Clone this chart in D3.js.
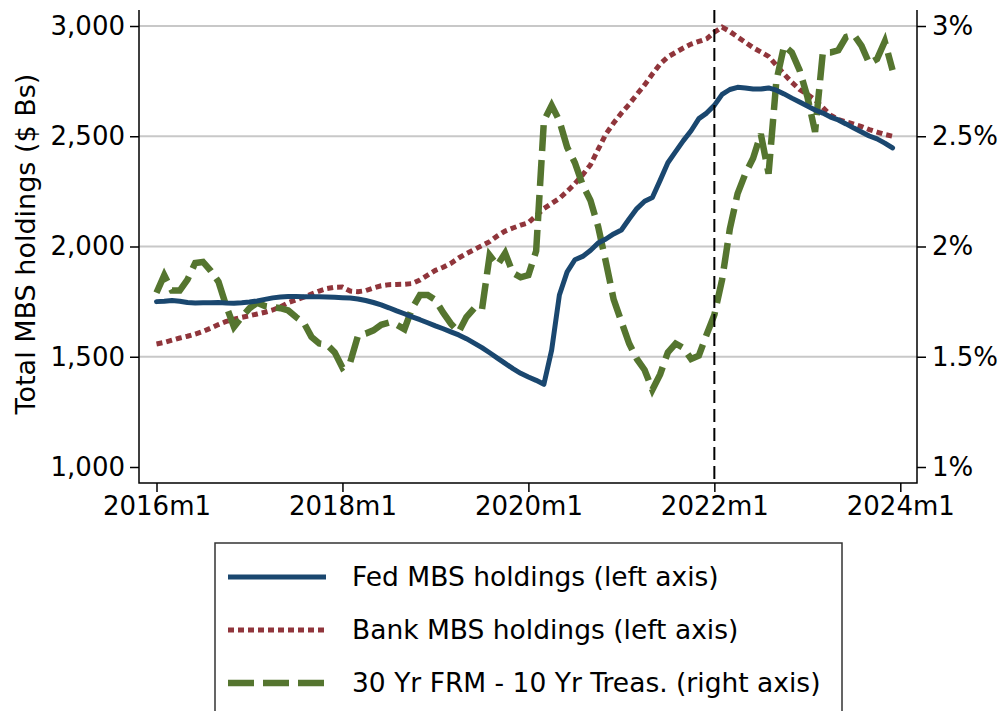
<!DOCTYPE html>
<html>
<head>
<meta charset="utf-8">
<script src="https://cdn.jsdelivr.net/npm/d3@7"></script>
<style>
  body { margin: 0; background: #fff; }
  svg { display: block; }
  text { font-family: "DejaVu Sans", sans-serif; fill: #000; }
</style>
</head>
<body>
<svg id="chart" width="1005" height="711"></svg>
<script>
// Monthly series, 2016m1 .. 2023m12
const startYear = 2016;
const xTickMonths = [0, 24, 48, 72, 96];
const xTickLabels = ["2016m1", "2018m1", "2020m1", "2022m1", "2024m1"];
const leftTicks = [1000, 1500, 2000, 2500, 3000];
const rightTicks = [1, 1.5, 2, 2.5, 3];
const gridTicks = [1500, 2000, 2500, 3000];
const markerMonth = 72; // 2022m1

// Fed MBS holdings, $ billions
const fedHoldings = [
  1750, 1752, 1755, 1752, 1746, 1744, 1745, 1745, 1746, 1744, 1743, 1745,
  1748, 1753, 1760, 1767, 1771, 1773, 1773, 1772, 1772, 1772, 1771, 1770,
  1768, 1766, 1762, 1755, 1746, 1735, 1722, 1708, 1695, 1681, 1668, 1654,
  1640, 1627, 1613, 1599, 1582, 1562, 1541, 1518, 1494, 1470, 1446, 1425,
  1408, 1393, 1375, 1530, 1780, 1885, 1940, 1955, 1982, 2016, 2034, 2057,
  2075, 2125, 2172, 2205, 2222, 2300, 2380, 2430, 2480, 2525, 2580, 2605,
  2640, 2690, 2712, 2722, 2719, 2714, 2714, 2719, 2709, 2692, 2673, 2655,
  2637, 2619, 2605, 2587, 2574, 2556, 2537, 2519, 2501, 2488, 2469, 2447
];

// Bank MBS holdings, $ billions
const bankHoldings = [
  1558, 1565, 1575, 1585, 1593, 1603, 1615, 1630, 1646, 1660, 1670, 1679,
  1686, 1694, 1702, 1712, 1727, 1745, 1758, 1770, 1784, 1798, 1809, 1815,
  1816, 1798, 1795, 1800, 1812, 1822, 1827, 1828, 1829, 1832, 1848, 1870,
  1892, 1906, 1924, 1948, 1968, 1986, 2004, 2022, 2048, 2070, 2084, 2097,
  2108, 2140, 2172, 2195, 2218, 2250, 2285, 2325, 2370, 2440, 2510, 2560,
  2605, 2645, 2690, 2733, 2782, 2828, 2860, 2880, 2900, 2918, 2930, 2942,
  2972, 2995, 2975, 2950, 2926, 2902, 2882, 2862, 2822, 2782, 2745, 2712,
  2690, 2665, 2630, 2596, 2576, 2565, 2555, 2544, 2530, 2519, 2508, 2500
];

// 30-year fixed mortgage rate minus 10-year Treasury yield, percent
const mortgageSpread = [
  1.79, 1.87, 1.80, 1.80, 1.85, 1.925, 1.93, 1.89, 1.84, 1.73, 1.635, 1.68,
  1.72, 1.745, 1.73, 1.725, 1.72, 1.71, 1.68, 1.655, 1.59, 1.56, 1.555, 1.52,
  1.45, 1.475, 1.595, 1.605, 1.62, 1.645, 1.655, 1.645, 1.625, 1.72, 1.78, 1.78,
  1.757, 1.70, 1.65, 1.612, 1.68, 1.72, 1.712, 1.96, 1.915, 1.97, 1.88, 1.86,
  1.87, 1.98, 2.57, 2.64, 2.57, 2.45, 2.38, 2.28, 2.21, 2.09, 1.93, 1.76,
  1.66, 1.56, 1.49, 1.44, 1.35, 1.42, 1.52, 1.56, 1.54, 1.49, 1.505, 1.60,
  1.69, 1.85, 2.08, 2.24, 2.33, 2.40, 2.51, 2.33, 2.75, 2.91, 2.88, 2.80,
  2.68, 2.52, 2.88, 2.88, 2.89, 2.95, 2.96, 2.91, 2.83, 2.85, 2.93, 2.80
];

const colors = { fed: "#1a476f", bank: "#90353b", spread: "#55752f" };

const svg = d3.select("#chart");
const frame = { left: 139, right: 917, top: 10, bottom: 483 };

const x = d3.scaleLinear().domain([0, 96]).range([156.5, 900.3]);
const yLeft = d3.scaleLinear().domain([1000, 3000]).range([467, 26]);
const yRight = d3.scaleLinear().domain([1, 3]).range([467, 26]);

// horizontal grid
svg.append("g")
  .selectAll("line")
  .data(gridTicks)
  .join("line")
  .attr("x1", frame.left).attr("x2", frame.right)
  .attr("y1", d => yLeft(d)).attr("y2", d => yLeft(d))
  .attr("stroke", "#c8c8c8").attr("stroke-width", 2);

// axes
function styleAxis(g) {
  g.select(".domain").remove();
  g.selectAll(".tick line").attr("stroke", "#000").attr("stroke-width", 1.5);
  g.selectAll(".tick text").attr("font-size", 26).attr("font-family", "DejaVu Sans").attr("fill", "#000");
}

svg.append("g")
  .attr("transform", `translate(${frame.left},0)`)
  .call(d3.axisLeft(yLeft).tickValues(leftTicks).tickFormat(d3.format(",")).tickSize(9).tickPadding(5))
  .call(styleAxis);

svg.append("g")
  .attr("transform", `translate(${frame.right},0)`)
  .call(d3.axisRight(yRight).tickValues(rightTicks).tickFormat(d => d + "%").tickSize(9).tickPadding(6))
  .call(styleAxis);

svg.append("g")
  .attr("transform", `translate(0,${frame.bottom})`)
  .call(d3.axisBottom(x).tickValues(xTickMonths).tickFormat((d, i) => xTickLabels[i]).tickSize(9).tickPadding(5))
  .call(styleAxis);

// frame lines (left, right, bottom)
svg.append("path")
  .attr("d", `M${frame.left},${frame.top}V${frame.bottom}H${frame.right}V${frame.top}`)
  .attr("fill", "none").attr("stroke", "#000").attr("stroke-width", 1.5);

// left axis title
svg.append("text")
  .attr("transform", `translate(35,244) rotate(-90)`)
  .attr("text-anchor", "middle")
  .attr("font-size", 27)
  .text("Total MBS holdings ($ Bs)");

// series
const lineLeft = d3.line().x((d, i) => x(i)).y(d => yLeft(d));
const lineRight = d3.line().x((d, i) => x(i)).y(d => yRight(d));

svg.append("path").datum(bankHoldings)
  .attr("d", lineLeft)
  .attr("fill", "none").attr("stroke", colors.bank).attr("stroke-width", 5)
  .attr("stroke-dasharray", "6,4");

svg.append("path").datum(mortgageSpread)
  .attr("d", lineRight)
  .attr("fill", "none").attr("stroke", colors.spread).attr("stroke-width", 6.5)
  .attr("stroke-dasharray", "26,9");

svg.append("path").datum(fedHoldings)
  .attr("d", lineLeft)
  .attr("fill", "none").attr("stroke", colors.fed).attr("stroke-width", 5)
  .attr("stroke-linejoin", "round").attr("stroke-linecap", "round");

// 2022m1 marker
svg.append("line")
  .attr("x1", x(markerMonth)).attr("x2", x(markerMonth))
  .attr("y1", frame.top).attr("y2", frame.bottom)
  .attr("stroke", "#000").attr("stroke-width", 2)
  .attr("stroke-dasharray", "13,6");

// legend
const legendItems = [
  { label: "Fed MBS holdings (left axis)", color: colors.fed, width: 5, dash: null },
  { label: "Bank MBS holdings (left axis)", color: colors.bank, width: 5, dash: "6,4" },
  { label: "30 Yr FRM - 10 Yr Treas. (right axis)", color: colors.spread, width: 6.5, dash: "26,9" }
];

const legend = svg.append("g");
legend.append("rect")
  .attr("x", 215).attr("y", 543).attr("width", 627).attr("height", 200)
  .attr("fill", "#fff").attr("stroke", "#333").attr("stroke-width", 1.5);

const rows = legend.selectAll("g.item")
  .data(legendItems)
  .join("g")
  .attr("class", "item")
  .attr("transform", (d, i) => `translate(0,${577 + i * 53})`);

rows.append("line")
  .attr("x1", 228).attr("x2", 326).attr("y1", 0).attr("y2", 0)
  .attr("stroke", d => d.color).attr("stroke-width", d => d.width)
  .attr("stroke-dasharray", d => d.dash);

rows.append("text")
  .attr("x", 352).attr("y", 0).attr("dy", "0.35em")
  .attr("font-size", 26.5)
  .text(d => d.label);
</script>
</body>
</html>
